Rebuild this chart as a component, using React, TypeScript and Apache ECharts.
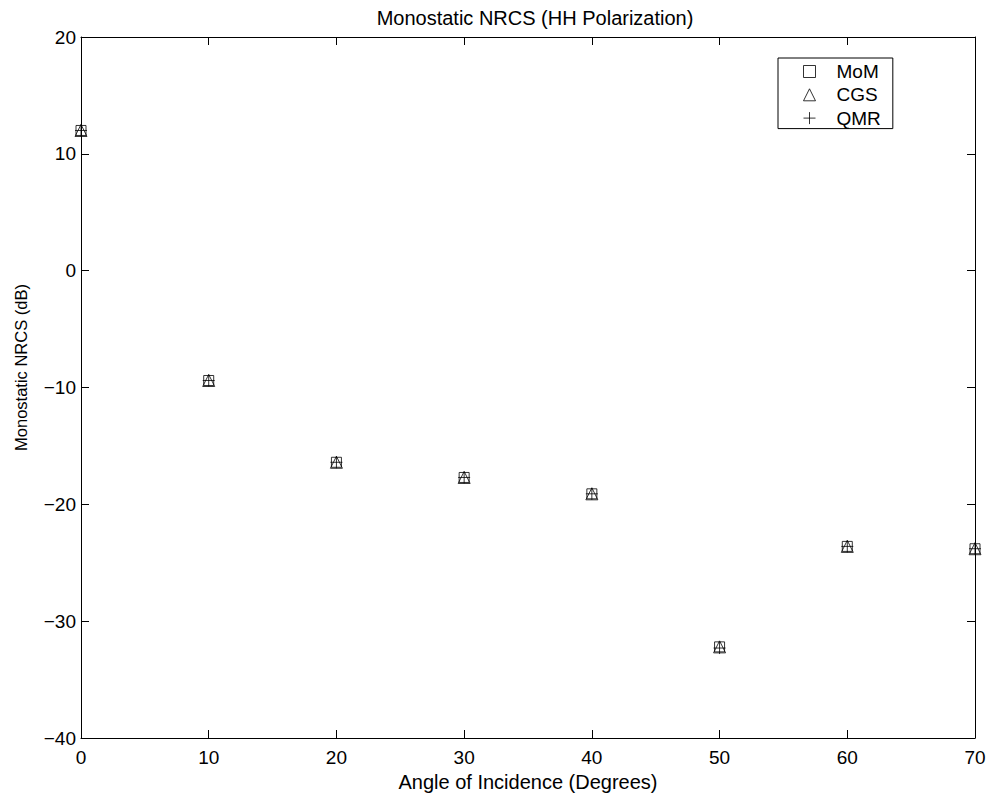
import React, { useEffect, useRef } from "react";
import * as echarts from "echarts";

const angles = [0, 10, 20, 30, 40, 50, 60, 70];
const momValues = [12.0, -9.4, -16.4, -17.7, -19.1, -32.2, -23.6, -23.8];
const cgsValues = [12.0, -9.4, -16.4, -17.7, -19.1, -32.2, -23.6, -23.8];
const qmrValues = [12.0, -9.4, -16.4, -17.7, -19.1, -32.3, -23.6, -23.8];
const seriesNames = ["MoM", "CGS", "QMR"];

const FONT = "'Liberation Sans', Arial, Helvetica, sans-serif";
const FS = 19;

const SQUARE = "path://M0,0L10,0L10,10L0,10Z";
const TRIANGLE = "path://M5,0L10,10L0,10Z";
const PLUS = "path://M0,5L10,5M5,0L5,10";

const fmt = (v: number) => String(v).replace("-", "\u2212");

export default function App() {
  const ref = useRef<HTMLDivElement>(null);
  useEffect(() => {
    if (!ref.current) return;
    const chart = echarts.init(ref.current, undefined, { renderer: "svg" });
    const toPairs = (vals: number[]) => angles.map((a, i) => [a, vals[i]]);
    const mk = (name: string, vals: number[], symbol: string, size: number[]) => ({
      name,
      type: "scatter",
      data: toPairs(vals),
      symbol,
      symbolSize: size,
      itemStyle: { color: "none", borderColor: "#000", borderWidth: 1 },
      emphasis: { disabled: true },
      clip: false,
    });
    const axisCommon = {
      axisLine: { show: true, onZero: false, lineStyle: { color: "#000", width: 1 } },
      axisTick: { show: true, inside: true, length: 8, lineStyle: { color: "#000" } },
      splitLine: { show: false },
    };
    chart.setOption({
      animation: false,
      backgroundColor: "#fff",
      title: {
        text: "Monostatic NRCS (HH Polarization)",
        left: 530,
        top: 3,
        textAlign: "center",
        textStyle: { fontFamily: FONT, fontSize: 20, fontWeight: "normal", color: "#000" },
      },
      legend: {
        left: 778,
        top: 58,
        orient: "vertical",
        data: seriesNames,
        borderColor: "#000",
        borderWidth: 1,
        borderRadius: 0,
        padding: [4, 12, 1, 23],
        itemWidth: 12,
        itemHeight: 12,
        itemGap: 4.3,
        itemStyle: { color: "none", borderColor: "#000", borderWidth: 1 },
        textStyle: { fontFamily: FONT, fontSize: FS, color: "#000", padding: [0, 0, 0, 16] },
        selectedMode: false,
      },
      grid: { left: 81, top: 37, right: 18, bottom: 55, containLabel: false },
      xAxis: [
        {
          type: "value",
          min: 0,
          max: 70,
          interval: 10,
          position: "bottom",
          name: "Angle of Incidence (Degrees)",
          nameLocation: "middle",
          nameGap: 34,
          nameTextStyle: { fontFamily: FONT, fontSize: 20, color: "#000" },
          axisLabel: { fontFamily: FONT, fontSize: FS, color: "#000", margin: 10 },
          ...axisCommon,
        },
        {
          type: "value",
          min: 0,
          max: 70,
          interval: 10,
          position: "top",
          axisLabel: { show: false },
          ...axisCommon,
        },
      ],
      yAxis: [
        {
          type: "value",
          min: -40,
          max: 20,
          interval: 10,
          position: "left",
          name: "Monostatic NRCS (dB)",
          nameLocation: "middle",
          nameGap: 52,
          nameTextStyle: { fontFamily: FONT, fontSize: 16.5, color: "#000", padding: [0, 0, 0, 40] },
          axisLabel: { fontFamily: FONT, fontSize: FS, color: "#000", margin: 5, formatter: fmt },
          ...axisCommon,
        },
        {
          type: "value",
          min: -40,
          max: 20,
          interval: 10,
          position: "right",
          axisLabel: { show: false },
          ...axisCommon,
        },
      ],
      series: [
        mk(seriesNames[0], momValues, SQUARE, [10, 10]),
        mk(seriesNames[1], cgsValues, TRIANGLE, [12, 12]),
        mk(seriesNames[2], qmrValues, PLUS, [12, 12]),
      ],
    });
    return () => chart.dispose();
  }, []);
  return <div ref={ref} style={{ width: 993, height: 797, position: "absolute", left: 0, top: 0 }} />;
}
